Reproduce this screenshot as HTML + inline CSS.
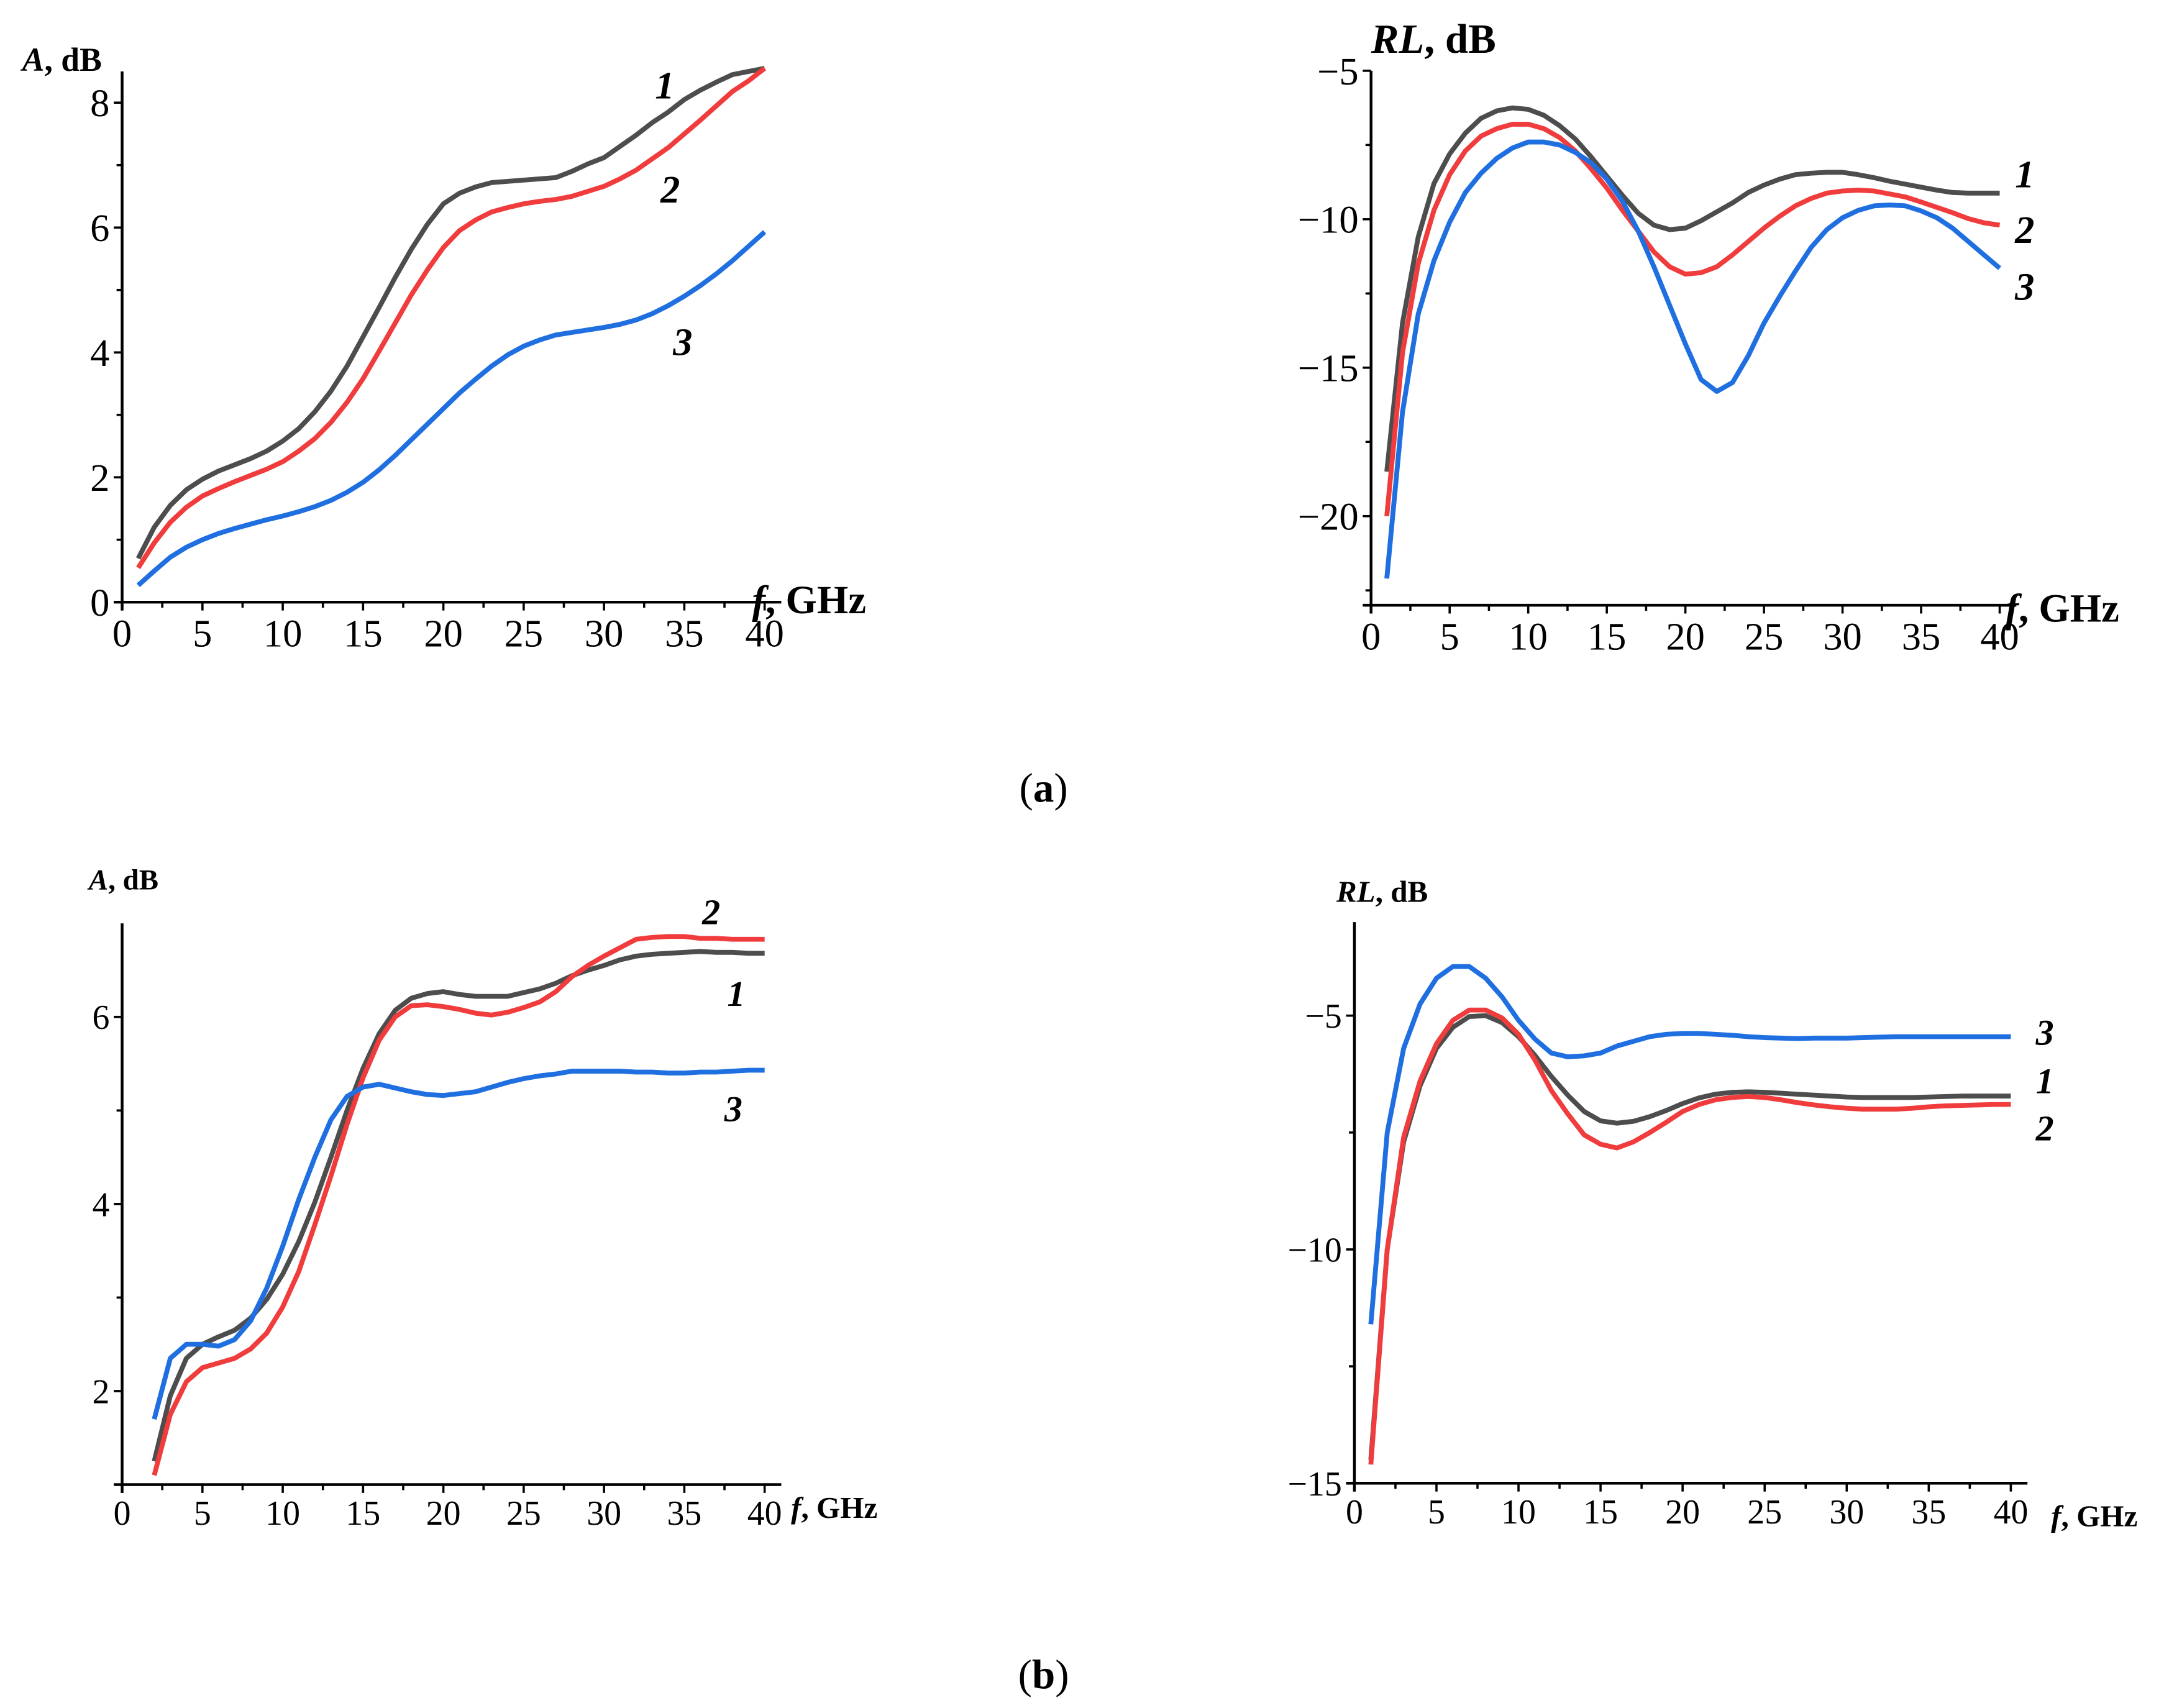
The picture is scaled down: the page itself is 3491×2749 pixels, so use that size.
<!DOCTYPE html>
<html><head><meta charset="utf-8"><style>
html,body{margin:0;padding:0;background:#fff;}
svg{display:block;}
text{font-family:"Liberation Serif",serif;}
</style></head><body>
<svg id="fig" width="3491" height="2749" viewBox="0 0 1563 1231" preserveAspectRatio="none" xmlns="http://www.w3.org/2000/svg">
<text x="752" y="578" font-size="30" text-anchor="middle">(<tspan font-weight="bold">a</tspan>)</text>
<text x="752" y="1217" font-size="30" text-anchor="middle">(<tspan font-weight="bold">b</tspan>)</text>
</svg>
<script>
const freqA = Array.from({length:40},(_,i)=>i+1);
const freqB = Array.from({length:39},(_,i)=>i+2);
const aLeft1=[0.7,1.2,1.55,1.8,1.97,2.1,2.2,2.3,2.42,2.58,2.78,3.05,3.38,3.78,4.25,4.72,5.2,5.65,6.05,6.38,6.55,6.65,6.72,6.74,6.76,6.78,6.8,6.9,7.02,7.12,7.3,7.48,7.68,7.85,8.05,8.2,8.33,8.45,8.5,8.55];
const aLeft2=[0.55,0.95,1.28,1.52,1.7,1.82,1.93,2.03,2.13,2.25,2.42,2.62,2.88,3.2,3.58,4.02,4.47,4.92,5.32,5.68,5.95,6.12,6.25,6.32,6.38,6.42,6.45,6.5,6.58,6.66,6.78,6.92,7.1,7.28,7.5,7.72,7.95,8.18,8.35,8.55];
const aLeft3=[0.27,0.5,0.72,0.88,1.0,1.1,1.18,1.25,1.32,1.38,1.45,1.53,1.63,1.76,1.92,2.12,2.35,2.6,2.85,3.1,3.35,3.57,3.78,3.96,4.1,4.2,4.28,4.32,4.36,4.4,4.45,4.52,4.62,4.75,4.9,5.07,5.26,5.47,5.7,5.93];
const aRight1=[-18.5,-13.5,-10.6,-8.8,-7.8,-7.1,-6.6,-6.35,-6.25,-6.3,-6.5,-6.85,-7.3,-7.9,-8.55,-9.2,-9.8,-10.2,-10.35,-10.3,-10.05,-9.75,-9.45,-9.1,-8.85,-8.65,-8.5,-8.45,-8.42,-8.42,-8.5,-8.6,-8.72,-8.82,-8.92,-9.02,-9.1,-9.12,-9.12,-9.12];
const aRight2=[-20,-14.5,-11.5,-9.7,-8.5,-7.7,-7.2,-6.95,-6.8,-6.8,-6.95,-7.25,-7.7,-8.3,-8.95,-9.7,-10.4,-11.1,-11.6,-11.85,-11.8,-11.6,-11.2,-10.75,-10.3,-9.9,-9.55,-9.3,-9.12,-9.05,-9.02,-9.05,-9.15,-9.25,-9.42,-9.6,-9.78,-9.98,-10.12,-10.2];
const aRight3=[-22.1,-16.5,-13.2,-11.4,-10.1,-9.1,-8.45,-7.95,-7.6,-7.4,-7.4,-7.5,-7.75,-8.1,-8.65,-9.4,-10.4,-11.6,-12.9,-14.2,-15.4,-15.8,-15.5,-14.6,-13.5,-12.6,-11.75,-10.95,-10.35,-9.95,-9.7,-9.55,-9.52,-9.55,-9.72,-9.95,-10.3,-10.75,-11.2,-11.65];
const bLeft1=[1.25,1.95,2.35,2.5,2.58,2.65,2.78,2.98,3.25,3.6,4.02,4.5,5.0,5.45,5.82,6.07,6.2,6.25,6.27,6.24,6.22,6.22,6.22,6.26,6.3,6.36,6.44,6.5,6.55,6.61,6.65,6.67,6.68,6.69,6.7,6.69,6.69,6.68,6.68];
const bLeft2=[1.1,1.75,2.1,2.25,2.3,2.35,2.45,2.62,2.9,3.28,3.78,4.3,4.85,5.35,5.75,6.0,6.12,6.13,6.11,6.08,6.04,6.02,6.05,6.1,6.16,6.27,6.43,6.55,6.65,6.74,6.83,6.85,6.86,6.86,6.84,6.84,6.83,6.83,6.83];
const bLeft3=[1.7,2.35,2.5,2.5,2.48,2.55,2.75,3.1,3.55,4.05,4.5,4.9,5.15,5.25,5.28,5.24,5.2,5.17,5.16,5.18,5.2,5.25,5.3,5.34,5.37,5.39,5.42,5.42,5.42,5.42,5.41,5.41,5.4,5.4,5.41,5.41,5.42,5.43,5.43];
const bRight1=[-14.5,-10,-7.7,-6.5,-5.7,-5.25,-5.02,-5.0,-5.15,-5.45,-5.85,-6.3,-6.7,-7.05,-7.25,-7.3,-7.26,-7.16,-7.03,-6.88,-6.76,-6.68,-6.64,-6.63,-6.64,-6.66,-6.68,-6.7,-6.72,-6.74,-6.75,-6.75,-6.75,-6.75,-6.74,-6.73,-6.72,-6.72,-6.72,-6.72];
const bRight2=[-14.6,-10,-7.6,-6.4,-5.6,-5.1,-4.88,-4.88,-5.05,-5.4,-5.95,-6.6,-7.1,-7.55,-7.75,-7.83,-7.7,-7.5,-7.28,-7.05,-6.9,-6.8,-6.75,-6.73,-6.75,-6.8,-6.86,-6.91,-6.95,-6.98,-7.0,-7.0,-7.0,-6.98,-6.95,-6.93,-6.92,-6.91,-6.9,-6.9];
const bRight3=[-11.6,-7.5,-5.7,-4.75,-4.2,-3.95,-3.95,-4.2,-4.6,-5.1,-5.5,-5.8,-5.88,-5.86,-5.8,-5.65,-5.55,-5.45,-5.4,-5.38,-5.38,-5.4,-5.42,-5.45,-5.47,-5.48,-5.49,-5.48,-5.48,-5.48,-5.47,-5.46,-5.45,-5.45,-5.45,-5.45,-5.45,-5.45,-5.45,-5.45];
const xTicks=[0,5,10,15,20,25,30,35,40];
const yTicksAL=[0,2,4,6,8];
const yTicksAR=[-5,-10,-15,-20];
const yTicksBL=[2,4,6];
const yTicksBR=[-5,-10,-15];

const NS="http://www.w3.org/2000/svg";
const svg=document.getElementById('fig');
const COLORS=["#4d4d4d","#f03c3c","#1f6fe0"];
function mk(tag,attrs,parent){const e=document.createElementNS(NS,tag);for(const k in attrs)e.setAttribute(k,attrs[k]);(parent||svg).appendChild(e);return e;}

function chart(cfg){
  const g=mk('g',{});
  
  
  const sx=v=>cfg.px0+(v-0)*(cfg.px40-cfg.px0)/40;
  const sy=v=>cfg.pyLo+(v-cfg.yLo)*(cfg.pyHi-cfg.pyLo)/(cfg.yHi-cfg.yLo);
  const yb=sy(cfg.yLo), yt=sy(cfg.yHi);
  const ax=mk('line',{x1:cfg.px0,y1:yt,x2:cfg.px0,y2:yb+6,stroke:'#000','stroke-width':2},g);
  
  
  const xa=mk('line',{x1:cfg.px0-6,y1:yb,x2:cfg.xEnd,y2:yb,stroke:'#000','stroke-width':2},g);
  
  
  for(let v=0;v<=40;v+=2.5){
    const major=v%5===0;
    mk('line',{x1:sx(v),y1:yb,x2:sx(v),y2:yb+(major?6:4),stroke:'#000','stroke-width':1.6},g);
  }
  xTicks.forEach(v=>{
    const t=mk('text',{x:sx(v),y:yb+cfg.fs+4,'font-size':cfg.fs,'text-anchor':'middle'},g);
    t.textContent=v;
    
    
  });
  cfg.minor.forEach(v=>mk('line',{x1:cfg.px0-4,y1:sy(v),x2:cfg.px0,y2:sy(v),stroke:'#000','stroke-width':1.6},g));
  cfg.yTicks.forEach(v=>{
    mk('line',{x1:cfg.px0-6,y1:sy(v),x2:cfg.px0,y2:sy(v),stroke:'#000','stroke-width':1.6},g);
    const t=mk('text',{x:cfg.px0-9,y:sy(v)+cfg.fs*0.35,'font-size':cfg.fs,'text-anchor':'end'},g);
    t.textContent=v<0?'\u2212'+Math.abs(v):v;
    
    
  });
  cfg.series.forEach((s,i)=>{
    const d=s.y.map((v,j)=>(j?'L':'M')+sx(s.x[j]).toFixed(2)+','+sy(v).toFixed(2)).join('');
    const p=mk('path',{d:d,fill:'none',stroke:COLORS[i],'stroke-width':3.5,'stroke-linejoin':'round'},g);
    
    
  });
  cfg.labels.forEach(l=>{
    const t=mk('text',{x:l[1],y:l[2],'font-size':cfg.lfs,'font-weight':'bold','font-style':'italic'},g);
    t.textContent=l[0];
    
    
  });
  const yt2=mk('text',{x:cfg.yTitle[0],y:cfg.yTitle[1],'font-size':cfg.tfs,'font-weight':'bold'},g);
  yt2.innerHTML='<tspan font-style="italic">'+cfg.yTitle[2]+'</tspan>, dB';
  
  
  const xt=mk('text',{x:cfg.xTitle[0],y:cfg.xTitle[1],'font-size':cfg.xfs,'font-weight':'bold'},g);
  xt.innerHTML='<tspan font-style="italic">f</tspan>, GHz';
  
  
}

chart({name:'chart-a-attenuation',px0:88,px40:551,xEnd:563,yLo:0,yHi:8.5,pyLo:434,pyHi:434-8.5*45,fs:28,lfs:28,tfs:24,xfs:29,
  yTicks:yTicksAL,minor:[1,3,5,7],
  series:[{x:freqA,y:aLeft1},{x:freqA,y:aLeft2},{x:freqA,y:aLeft3}],
  labels:[['1',472,71],['2',476,146],['3',485,256]],yTitle:[16,51,'A'],xTitle:[542,442]});
chart({name:'chart-a-return-loss',px0:988,px40:1441,xEnd:1453,yLo:-23,yHi:-5,pyLo:51+18*21.4,pyHi:51,fs:28,lfs:28,tfs:30,xfs:29,
  yTicks:yTicksAR,minor:[-7.5,-12.5,-17.5,-22.5],
  series:[{x:freqA,y:aRight1},{x:freqA,y:aRight2},{x:freqA,y:aRight3}],
  labels:[['1',1452,135],['2',1452,175],['3',1452,216]],yTitle:[988,38,'RL'],xTitle:[1445,448]});
chart({name:'chart-b-attenuation',px0:88,px40:551,xEnd:563,yLo:1,yHi:7,pyLo:1070,pyHi:665.5,fs:25,lfs:26,tfs:21,xfs:22,
  yTicks:yTicksBL,minor:[3,5],
  series:[{x:freqB,y:bLeft1},{x:freqB,y:bLeft2},{x:freqB,y:bLeft3}],
  labels:[['2',506,666],['1',524,725],['3',522,808]],yTitle:[64,641,'A'],xTitle:[570,1094]});
chart({name:'chart-b-return-loss',px0:976,px40:1449,xEnd:1461,yLo:-15,yHi:-3,pyLo:1069,pyHi:1069-12*33.7,fs:25,lfs:26,tfs:22,xfs:22,
  yTicks:yTicksBR,minor:[-7.5,-12.5],
  series:[{x:freqA,y:bRight1},{x:freqA,y:bRight2},{x:freqA,y:bRight3}],
  labels:[['3',1467,753],['1',1467,788],['2',1467,822]],yTitle:[963,650,'RL'],xTitle:[1478,1100]});
</script>
</body></html>
